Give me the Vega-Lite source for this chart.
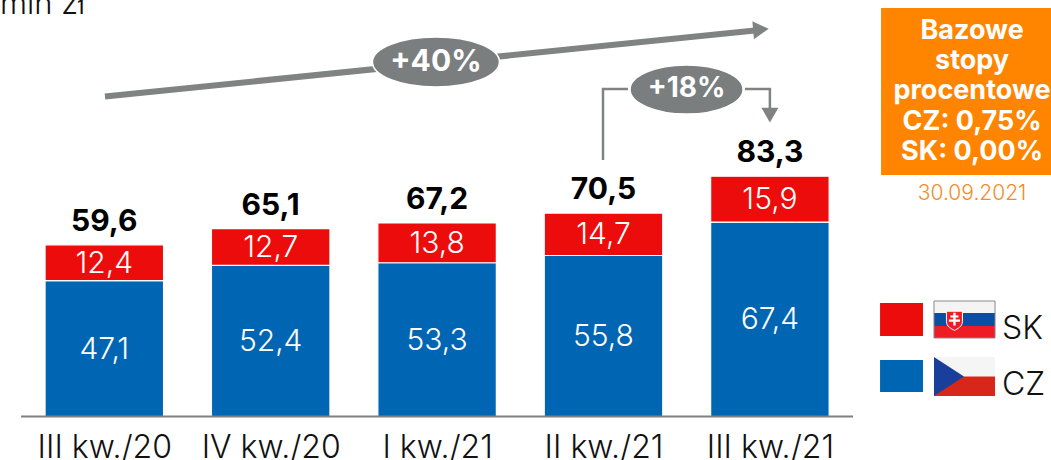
{"$schema":"https://vega.github.io/schema/vega-lite/v6.json","width":1051,"height":460,"padding":0,"autosize":"none","background":"white","config":{"view":{"stroke":null},"text":{"font":"Inter"},"axis":{"labelFont":"Inter"}},
"data":{"values":[
{"kw":"III kw./20","q":0,"kraj":"CZ","ord":1,"value":47.1,"mid":23.55,"label":"47,1"},{"kw":"III kw./20","q":0,"kraj":"SK","ord":2,"value":12.4,"mid":53.3,"label":"12,4"},
{"kw":"IV kw./20","q":1,"kraj":"CZ","ord":1,"value":52.4,"mid":26.2,"label":"52,4"},{"kw":"IV kw./20","q":1,"kraj":"SK","ord":2,"value":12.7,"mid":58.75,"label":"12,7"},
{"kw":"I kw./21","q":2,"kraj":"CZ","ord":1,"value":53.3,"mid":26.65,"label":"53,3"},{"kw":"I kw./21","q":2,"kraj":"SK","ord":2,"value":13.8,"mid":60.2,"label":"13,8"},
{"kw":"II kw./21","q":3,"kraj":"CZ","ord":1,"value":55.8,"mid":27.9,"label":"55,8"},{"kw":"II kw./21","q":3,"kraj":"SK","ord":2,"value":14.7,"mid":63.15,"label":"14,7"},
{"kw":"III kw./21","q":4,"kraj":"CZ","ord":1,"value":67.4,"mid":33.7,"label":"67,4"},{"kw":"III kw./21","q":4,"kraj":"SK","ord":2,"value":15.9,"mid":75.35,"label":"15,9"}
]},
"encoding":{
"x":{"field":"q","type":"quantitative","scale":{"domain":[-0.6268,5.6893],"nice":false,"zero":false,"padding":0},"axis":{"title":null,"values":[0,1,2,3,4],"labelExpr":"['III kw./20','IV kw./20','I kw./21','II kw./21','III kw./21'][datum.value]","domain":false,"ticks":false,"grid":false,"offset":-43.5,"labelPadding":31,"labelFontSize":32,"labelFontWeight":300,"labelColor":"#111111","labelBaseline":"middle","labelFlush":false,"labelOverlap":false}},
"y":{"field":"v","type":"quantitative","scale":{"domain":[-15.08,144.37],"nice":false,"zero":false,"padding":0},"axis":null}
},
"layer":[
{"mark":{"type":"bar","width":118.5,"stroke":"#ffffff","strokeWidth":1.2},"encoding":{"y":{"field":"value","type":"quantitative","stack":"zero","scale":{"domain":[-15.08,144.37],"nice":false,"zero":false,"padding":0},"axis":null},"color":{"field":"kraj","type":"nominal","scale":{"domain":["SK","CZ"],"range":["#EC0C0C","#0066B3"]},"legend":null},"order":{"field":"ord"}}},
{"mark":{"type":"text","fontSize":30,"fontWeight":300,"color":"white","baseline":"middle","dy":1},"encoding":{"y":{"field":"mid","type":"quantitative"},"text":{"field":"label"}}},
{"data":{"values":[{"q":0,"v":59.6,"label":"59,6"},{"q":1,"v":65.1,"label":"65,1"},{"q":2,"v":67.2,"label":"67,2"},{"q":3,"v":70.5,"label":"70,5"},{"q":4,"v":83.3,"label":"83,3"}]},"mark":{"type":"text","fontSize":30,"fontWeight":700,"color":"#000000","baseline":"middle","dy":-23},"encoding":{"text":{"field":"label"}}},
{"data":{"values":[{"q":-0.5,"q2":4.5,"v":0}]},"mark":{"type":"rule","color":"#808080","strokeWidth":2},"encoding":{"x2":{"field":"q2"}}},
{"data":{"values":[{"q":0.004,"v":110.92,"o":1},{"q":3.91,"v":133.8,"o":2}]},"mark":{"type":"line","color":"#7F8382","strokeWidth":6},"encoding":{"order":{"field":"o"}}},
{"data":{"values":[{"q":3.946,"v":134.14}]},"mark":{"type":"point","shape":"triangle-right","size":324,"filled":true,"fill":"#7F8382","opacity":1,"strokeWidth":0,"angle":-5},"encoding":{}},
{"data":{"values":[{"q":2.997,"v":88.91,"o":1},{"q":2.997,"v":113.52,"o":2},{"q":3.147,"v":113.52,"o":3}]},"mark":{"type":"line","color":"#7F8382","strokeWidth":2.5},"encoding":{"order":{"field":"o"}}},
{"data":{"values":[{"q":3.85,"v":113.52,"o":1},{"q":4,"v":113.52,"o":2},{"q":4,"v":106.93,"o":3}]},"mark":{"type":"line","color":"#7F8382","strokeWidth":2.5},"encoding":{"order":{"field":"o"}}},
{"data":{"values":[{"q":4,"v":104.5}]},"mark":{"type":"point","shape":"triangle-down","size":290,"filled":true,"fill":"#7F8382","opacity":1,"strokeWidth":0},"encoding":{}},
{"data":{"values":[{"q":1.993,"v":122.88}]},"mark":{"type":"point","shape":"M-1,0 C-1,-0.218 -0.552,-0.394 0,-0.394 C0.552,-0.394 1,-0.218 1,0 C1,0.218 0.552,0.394 0,0.394 C-0.552,0.394 -1,0.218 -1,0 Z","size":16129,"filled":true,"fill":"#7A7E7E","stroke":"#ffffff","strokeWidth":1.5,"opacity":1},"encoding":{}},
{"data":{"values":[{"q":3.499,"v":113.35}]},"mark":{"type":"point","shape":"M-1,0 C-1,-0.24 -0.552,-0.434 0,-0.434 C0.552,-0.434 1,-0.24 1,0 C1,0.24 0.552,0.434 0,0.434 C-0.552,0.434 -1,0.24 -1,0 Z","size":12769,"filled":true,"fill":"#7A7E7E","stroke":"#ffffff","strokeWidth":1.5,"opacity":1},"encoding":{}},
{"data":{"values":[{"q":1.993,"v":122.88,"label":"+40%"}]},"mark":{"type":"text","fontSize":30,"fontWeight":700,"color":"white","baseline":"middle"},"encoding":{"text":{"field":"label"}}},
{"data":{"values":[{"q":3.499,"v":113.35,"label":"+18%"}]},"mark":{"type":"text","fontSize":28,"fontWeight":700,"color":"white","baseline":"middle"},"encoding":{"text":{"field":"label"}}},
{"data":{"values":[{"q":-0.6268,"v":139.4,"label":"mln zł"}]},"mark":{"type":"text","fontSize":31,"fontWeight":300,"color":"#111111","align":"left","baseline":"alphabetic"},"encoding":{"text":{"field":"label"}}},
{"data":{"values":[{"q":4.668,"q2":5.6893,"v":83.71,"v2":141.59}]},"mark":{"type":"rect","color":"#FF8500"},"encoding":{"x2":{"field":"q2"},"y2":{"field":"v2"}}},
{"data":{"values":[{"q":5.215,"v":133.62,"label":"Bazowe"},{"q":5.215,"v":123.22,"label":"stopy"},{"q":5.215,"v":112.82,"label":"procentowe"},{"q":5.215,"v":102.08,"label":"CZ: 0,75%"},{"q":5.215,"v":91.68,"label":"SK: 0,00%"}]},"mark":{"type":"text","fontSize":27,"fontWeight":700,"color":"white","baseline":"middle"},"encoding":{"text":{"field":"label"}}},
{"data":{"values":[{"q":5.215,"v":77.12,"label":"30.09.2021"}]},"mark":{"type":"text","fontSize":21,"fontWeight":300,"color":"#F28C28","baseline":"middle"},"encoding":{"text":{"field":"label"}}},
{"data":{"values":[{"q":4.662,"q2":4.92,"v":39.34,"v2":27.9,"kraj":"SK"},{"q":4.662,"q2":4.92,"v":19.58,"v2":8.49,"kraj":"CZ"}]},"mark":{"type":"rect"},"encoding":{"x2":{"field":"q2"},"y2":{"field":"v2"},"color":{"field":"kraj","type":"nominal","legend":null}}},
{"data":{"values":[{"q":4.986,"q2":5.353,"v":40.03,"v2":35.88}]},"mark":{"type":"rect","color":"#F4F4F4"},"encoding":{"x2":{"field":"q2"},"y2":{"field":"v2"}}},
{"data":{"values":[{"q":4.986,"q2":5.353,"v":35.88,"v2":31.37}]},"mark":{"type":"rect","color":"#0B4EA2"},"encoding":{"x2":{"field":"q2"},"y2":{"field":"v2"}}},
{"data":{"values":[{"q":4.986,"q2":5.353,"v":31.37,"v2":27.21}]},"mark":{"type":"rect","color":"#EE1C25"},"encoding":{"x2":{"field":"q2"},"y2":{"field":"v2"}}},
{"data":{"values":[{"q":4.986,"q2":5.353,"v":40.03,"v2":27.21}]},"mark":{"type":"rect","fill":"transparent","stroke":"#8A8A8A","strokeWidth":1},"encoding":{"x2":{"field":"q2"},"y2":{"field":"v2"}}},
{"data":{"values":[{"q":5.109,"v":33.45}]},"mark":{"type":"point","shape":"M-1,-1.1 L1,-1.1 L1,0.2 C1,0.8 0.4,1.1 0,1.3 C-0.4,1.1 -1,0.8 -1,0.2 Z","size":256,"filled":true,"fill":"#EE1C25","stroke":"#ffffff","strokeWidth":1,"opacity":1},"encoding":{}},
{"data":{"values":[{"q":5.109,"v":33.45}]},"mark":{"type":"point","shape":"M-0.15,-0.9 L0.15,-0.9 L0.15,0.7 L-0.15,0.7 Z M-0.5,-0.55 L0.5,-0.55 L0.5,-0.3 L-0.5,-0.3 Z M-0.7,-0.05 L0.7,-0.05 L0.7,0.22 L-0.7,0.22 Z","size":256,"filled":true,"fill":"#ffffff","strokeWidth":0,"opacity":1},"encoding":{}},
{"data":{"values":[{"q":4.986,"q2":5.353,"v":20.62,"v2":13.86}]},"mark":{"type":"rect","color":"#F5F5F5"},"encoding":{"x2":{"field":"q2"},"y2":{"field":"v2"}}},
{"data":{"values":[{"q":4.986,"q2":5.353,"v":13.86,"v2":7.11}]},"mark":{"type":"rect","color":"#D7261A"},"encoding":{"x2":{"field":"q2"},"y2":{"field":"v2"}}},
{"data":{"values":[{"q":4.986,"v":13.86}]},"mark":{"type":"point","shape":"M0,-1 L1.54,0 L0,1 Z","size":1521,"filled":true,"fill":"#1A3F9A","strokeWidth":0,"opacity":1},"encoding":{}},
{"data":{"values":[{"q":5.395,"v":30.3,"label":"SK"},{"q":5.395,"v":11.0,"label":"CZ"}]},"mark":{"type":"text","fontSize":32,"fontWeight":300,"color":"#111111","align":"left","baseline":"middle"},"encoding":{"text":{"field":"label"}}}
]}
